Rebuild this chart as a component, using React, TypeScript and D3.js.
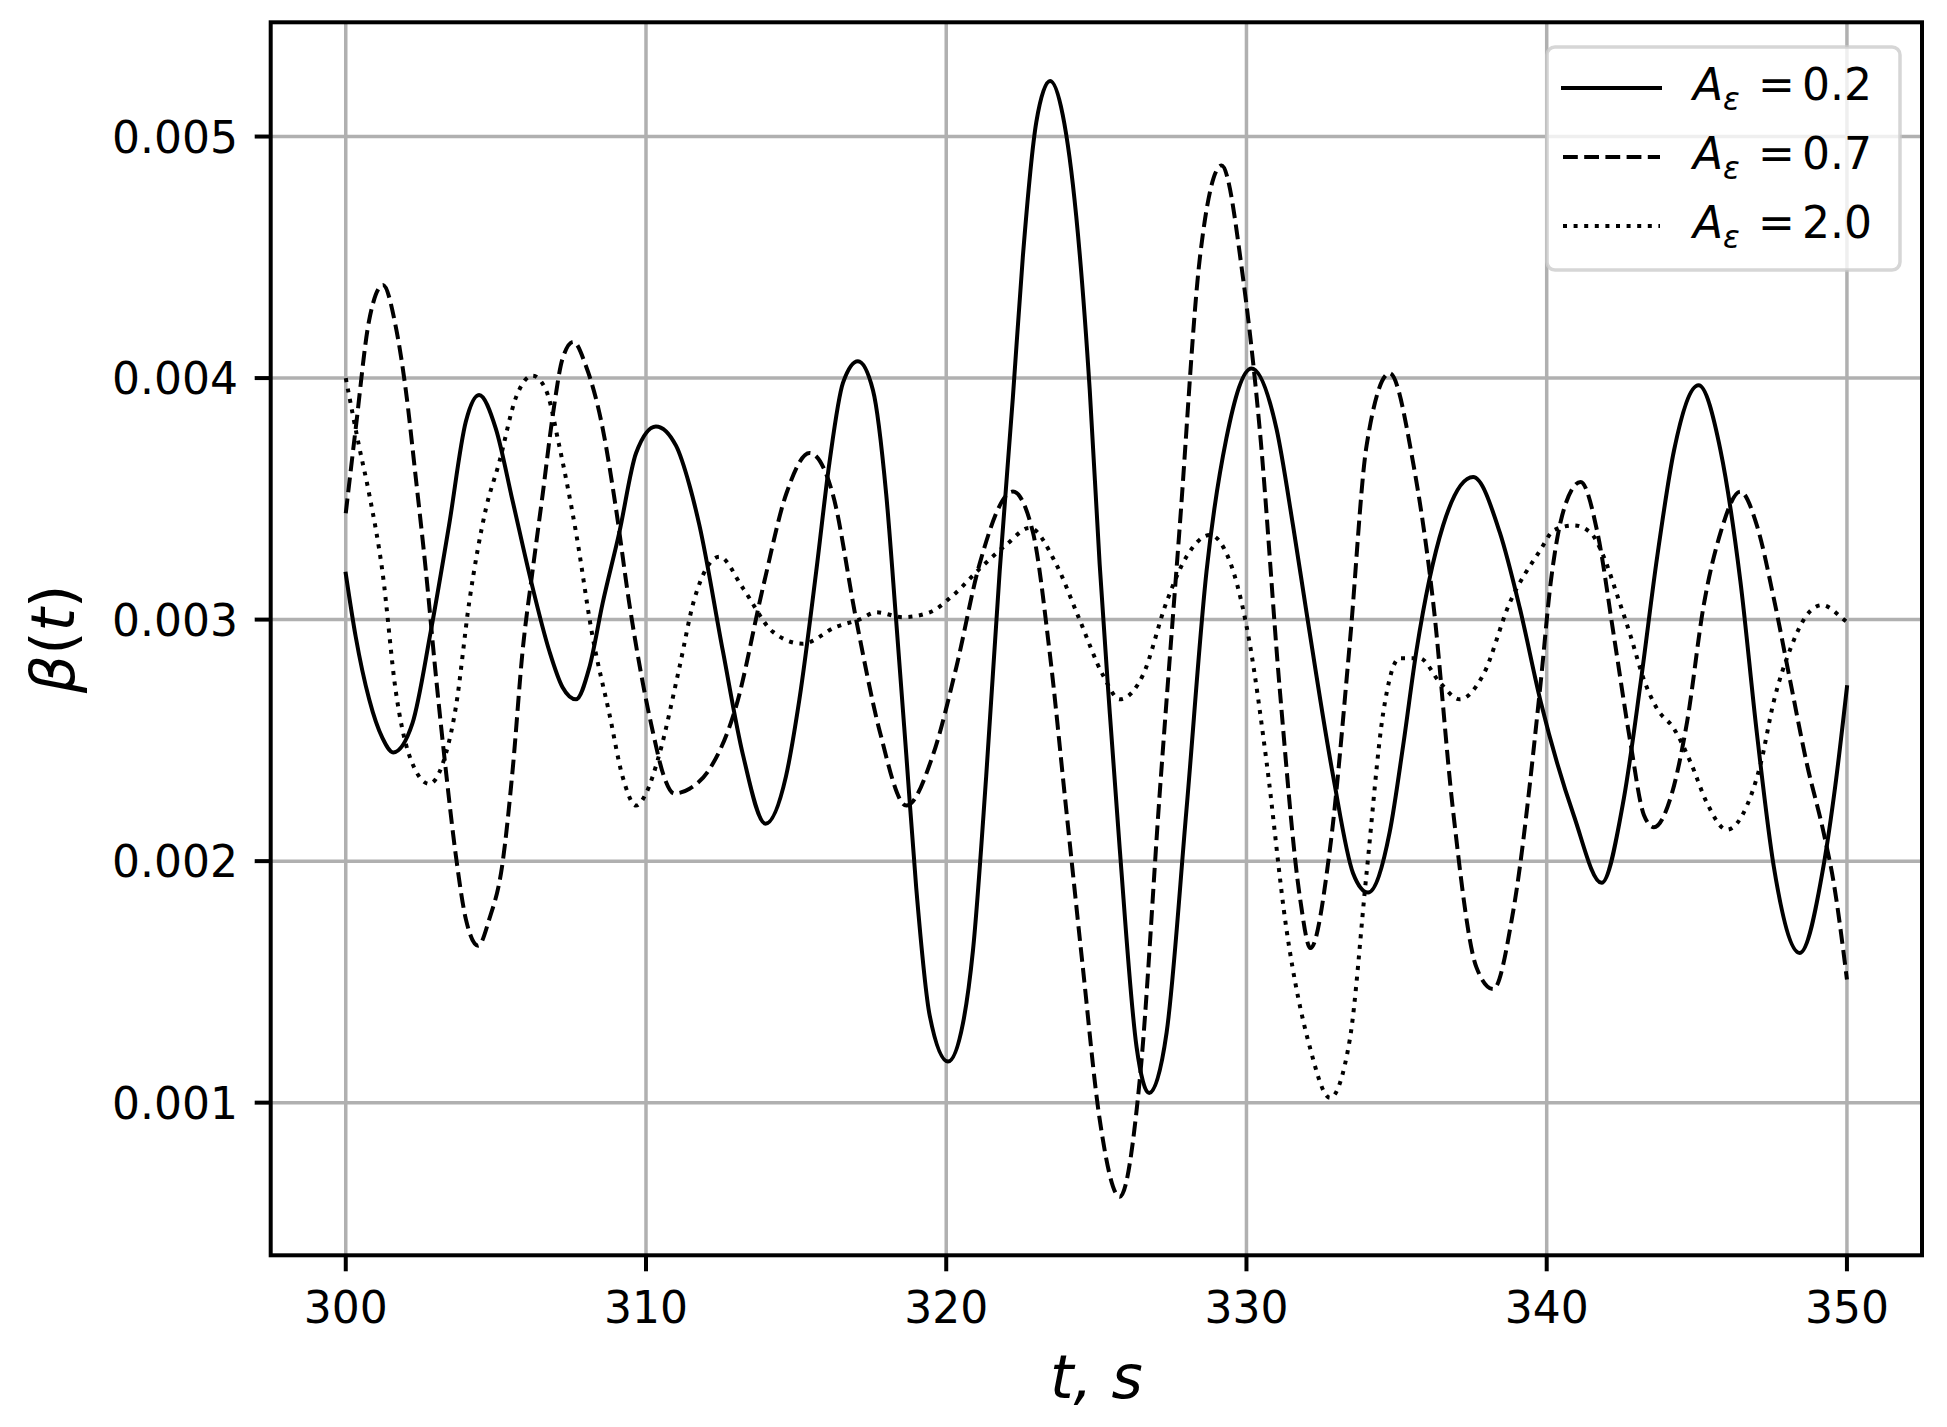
import React from "react";
import * as d3 from "d3";

// values: [t, beta]
const solid02: [number, number][] = [
  [300.0, 0.00319], [300.33, 0.00293], [300.78, 0.00267], [301.22, 0.00251], [301.58, 0.00245],
  [302.22, 0.00257], [302.83, 0.00295], [303.44, 0.00339], [304.0, 0.00382], [304.44, 0.00393],
  [305.0, 0.00379], [305.56, 0.00349], [306.17, 0.00316], [306.78, 0.00287], [307.22, 0.00272],
  [307.67, 0.00267], [308.11, 0.0028], [308.56, 0.00307], [309.11, 0.00336], [309.67, 0.00369],
  [310.33, 0.0038], [311.0, 0.00372], [311.44, 0.00356], [311.78, 0.00339], [312.56, 0.00287],
  [313.23, 0.00244], [313.98, 0.002155], [314.66, 0.00235], [315.11, 0.00267], [315.67, 0.0032],
  [316.11, 0.00365], [316.56, 0.00398], [317.06, 0.00407], [317.56, 0.00395], [318.0, 0.00352],
  [318.33, 0.003], [318.67, 0.00244], [319.0, 0.00189], [319.45, 0.00136], [320.06, 0.00117],
  [320.56, 0.00133], [320.89, 0.00163], [321.33, 0.00235], [321.78, 0.0032], [322.22, 0.00392],
  [322.55, 0.0045], [323.0, 0.00506], [323.46, 0.00523], [323.88, 0.00509], [324.33, 0.00467],
  [324.78, 0.00395], [325.11, 0.00323], [325.45, 0.00261], [325.78, 0.00205], [326.34, 0.00123],
  [326.76, 0.00104], [327.34, 0.00129], [328.0, 0.00221], [328.67, 0.0032], [329.33, 0.00375],
  [330.17, 0.00404], [331.0, 0.00379], [331.55, 0.00339], [332.0, 0.00303], [332.89, 0.00235],
  [333.55, 0.00195], [334.05, 0.00187], [334.77, 0.00212], [335.22, 0.00248], [335.66, 0.00287],
  [336.55, 0.00339], [337.55, 0.00359], [338.44, 0.00336], [339.1, 0.00305], [339.8, 0.00266],
  [340.9, 0.00219], [341.83, 0.00191], [342.57, 0.00226], [343.13, 0.00274], [343.68, 0.00326],
  [344.24, 0.0037], [345.06, 0.00397], [345.79, 0.0037], [346.45, 0.00316], [347.0, 0.00253],
  [347.56, 0.00198], [348.43, 0.00162], [349.22, 0.00198], [349.61, 0.00231], [350.0, 0.00272],
];

const dashed07: [number, number][] = [
  [300.0, 0.00344], [300.33, 0.00379], [300.78, 0.00424], [301.24, 0.004385], [301.67, 0.00421],
  [302.0, 0.00395], [302.33, 0.00359], [302.67, 0.0032], [303.0, 0.00277], [303.33, 0.00238],
  [303.67, 0.00202], [304.0, 0.00176], [304.41, 0.00165], [304.78, 0.00176], [305.22, 0.00199],
  [305.56, 0.00238], [305.89, 0.00287], [306.22, 0.0032], [306.56, 0.00352], [306.9, 0.00385],
  [307.22, 0.00408], [307.58, 0.00415], [308.0, 0.00405], [308.56, 0.00379], [309.0, 0.00346],
  [309.44, 0.00307], [309.89, 0.00274], [310.22, 0.00254], [310.6, 0.00235], [310.94, 0.00228],
  [311.45, 0.0023], [312.11, 0.00238], [313.0, 0.00264], [313.89, 0.00313], [314.67, 0.00352],
  [315.45, 0.00369], [316.22, 0.00352], [317.0, 0.003], [317.78, 0.00254], [318.67, 0.00223],
  [319.56, 0.00244], [320.33, 0.0028], [321.11, 0.00323], [322.22, 0.00353], [322.89, 0.00336],
  [323.44, 0.00287], [324.0, 0.00221], [324.55, 0.00156], [325.1, 0.00094], [325.78, 0.00061],
  [326.45, 0.0011], [327.11, 0.00228], [327.78, 0.00339], [328.45, 0.0045], [329.17, 0.00488],
  [329.89, 0.00441], [330.44, 0.00379], [331.11, 0.00271], [331.78, 0.00185], [332.13, 0.00164],
  [332.78, 0.00205], [333.44, 0.0029], [334.0, 0.00372], [334.77, 0.00402], [335.55, 0.00365],
  [336.22, 0.00307], [336.88, 0.00221], [337.66, 0.00156], [338.22, 0.00147], [338.88, 0.00179],
  [339.8, 0.00274], [340.13, 0.00315], [340.58, 0.00346], [341.13, 0.00357], [341.69, 0.00336],
  [342.24, 0.00293], [342.79, 0.00249], [343.24, 0.00219], [343.57, 0.00214], [344.12, 0.00226],
  [344.68, 0.00258], [345.23, 0.00306], [345.79, 0.00336], [346.45, 0.00353], [347.0, 0.00339],
  [347.56, 0.00309], [348.12, 0.00274], [348.67, 0.0024], [349.22, 0.00212], [349.56, 0.00191],
  [350.0, 0.00151],
];

const dotted20: [number, number][] = [
  [300.0, 0.004], [300.44, 0.00372], [300.78, 0.00352], [301.22, 0.0032], [301.67, 0.0027],
  [302.11, 0.00244], [302.78, 0.00232], [303.22, 0.0024], [303.67, 0.00264], [304.11, 0.00307],
  [304.67, 0.00346], [305.11, 0.00365], [305.67, 0.00392], [306.22, 0.00401], [306.67, 0.00395],
  [307.11, 0.00372], [307.67, 0.00336], [308.22, 0.00293], [308.78, 0.00261], [309.22, 0.00235],
  [309.67, 0.00223], [310.0, 0.00228], [310.44, 0.00244], [311.11, 0.0028], [311.6, 0.00308],
  [312.45, 0.00326], [313.23, 0.00313], [314.22, 0.00295], [315.22, 0.0029], [316.33, 0.00297],
  [317.1, 0.003], [317.67, 0.00303], [318.56, 0.00301], [319.45, 0.00303], [320.22, 0.0031],
  [321.11, 0.00321], [322.0, 0.00331], [322.78, 0.00338], [323.66, 0.00323], [324.44, 0.003],
  [325.22, 0.00277], [325.78, 0.00267], [326.55, 0.00277], [327.33, 0.00307], [328.0, 0.00326],
  [328.78, 0.00335], [329.56, 0.0032], [330.11, 0.0029], [330.67, 0.00241], [331.33, 0.00172],
  [332.11, 0.00123], [332.78, 0.00102], [333.44, 0.00126], [334.0, 0.00195], [334.55, 0.00261],
  [335.1, 0.00284], [335.77, 0.00284], [336.44, 0.00274], [337.1, 0.00267], [337.88, 0.00277],
  [338.77, 0.00307], [339.8, 0.00329], [340.24, 0.00337], [340.9, 0.00339], [341.46, 0.00336],
  [341.9, 0.00326], [342.35, 0.0031], [342.8, 0.00293], [343.24, 0.00275], [343.68, 0.00263],
  [344.23, 0.00255], [344.79, 0.00241], [345.34, 0.00224], [346.0, 0.00213], [346.67, 0.00223],
  [347.12, 0.0024], [347.56, 0.00266], [348.12, 0.00288], [348.67, 0.00302], [349.17, 0.00306],
  [349.9, 0.003], [350.0, 0.00299],
];

const xTicks = [300, 310, 320, 330, 340, 350];
const yTicks = [0.001, 0.002, 0.003, 0.004, 0.005];
const legendLabels = ["0.2", "0.7", "2.0"];

const W = 1947;
const H = 1427;
const left = 270.7, right = 1922, top = 22.3, bottom = 1255.3;
const FONT = "DejaVu Sans";

const App = () => {
  const x = d3.scaleLinear().domain([297.5, 352.5]).range([left, right]);
  const y = d3.scaleLinear().domain([0.000368, 0.005473]).range([bottom, top]);

  const line = d3.line<[number, number]>()
    .x(d => x(d[0]))
    .y(d => y(d[1]))
    .curve(d3.curveMonotoneX);

  const series = [
    {data: solid02, dash: null as string | null},
    {data: dashed07, dash: "14.8 6.4"},
    {data: dotted20, dash: "4 6.6"},
  ];

  const lw = 4;
  const legendRows = [100, 169, 238];

  return (
    <svg width={W} height={H} style={{position: "absolute", left: 0, top: 0, background: "#fff"}}
         fontFamily={FONT}>
      <rect x={0} y={0} width={W} height={H} fill="#fff"/>
      {/* grid */}
      <g stroke="#b0b0b0" strokeWidth={3.5}>
        {xTicks.map(t => <line key={"gx" + t} x1={x(t)} x2={x(t)} y1={top} y2={bottom}/>)}
        {yTicks.map(t => <line key={"gy" + t} x1={left} x2={right} y1={y(t)} y2={y(t)}/>)}
      </g>

      {/* curves */}
      {series.map((s, i) => (
        <path key={i} d={line(s.data) || ""} fill="none" stroke="#000" strokeWidth={lw}
              strokeDasharray={s.dash || undefined}
              strokeLinecap={s.dash ? "butt" : "square"} strokeLinejoin="round"/>
      ))}

      {/* frame */}
      <rect x={left} y={top} width={right - left} height={bottom - top} fill="none" stroke="#000" strokeWidth={4}/>

      {/* x ticks */}
      {xTicks.map(t => (
        <g key={"xt" + t}>
          <line x1={x(t)} x2={x(t)} y1={bottom} y2={bottom + 16} stroke="#000" strokeWidth={4}/>
          <text x={x(t)} y={1323} fontSize={44} textAnchor="middle">{t}</text>
        </g>
      ))}

      {/* y ticks */}
      {yTicks.map(t => (
        <g key={"yt" + t}>
          <line x1={left - 16} x2={left} y1={y(t)} y2={y(t)} stroke="#000" strokeWidth={4}/>
          <text x={238} y={y(t) + 16} fontSize={44} textAnchor="end">{t.toFixed(3)}</text>
        </g>
      ))}

      {/* axis labels */}
      <text x={(left + right) / 2} y={1398} fontSize={60} textAnchor="middle" fontStyle="italic">t, s</text>
      <text transform={`translate(74, ${(top + bottom) / 2}) rotate(-90)`} fontSize={60} textAnchor="middle">
        <tspan fontStyle="italic">β</tspan>(<tspan fontStyle="italic">t</tspan>)
      </text>

      {/* legend */}
      <rect x={1547} y={47} width={353} height={223} rx={8} ry={8}
            fill="#fff" fillOpacity={0.8} stroke="#cccccc" strokeOpacity={0.8} strokeWidth={3.5}/>
      {series.map((s, i) => (
        <g key={"lg" + i}>
          <line x1={1563} x2={1660} y1={legendRows[i] - 12} y2={legendRows[i] - 12} stroke="#000"
                strokeWidth={lw} strokeDasharray={s.dash || undefined}
                strokeLinecap={s.dash ? "butt" : "square"}/>
          <text x={1693} y={legendRows[i]} fontSize={44} fontStyle="italic">A</text>
          <text x={1723} y={legendRows[i] + 10} fontSize={31} fontStyle="italic">ε</text>
          <text x={1758} y={legendRows[i]} fontSize={44}>=</text>
          <text x={1802} y={legendRows[i]} fontSize={44}>{legendLabels[i]}</text>
        </g>
      ))}
    </svg>
  );
};

export default App;
